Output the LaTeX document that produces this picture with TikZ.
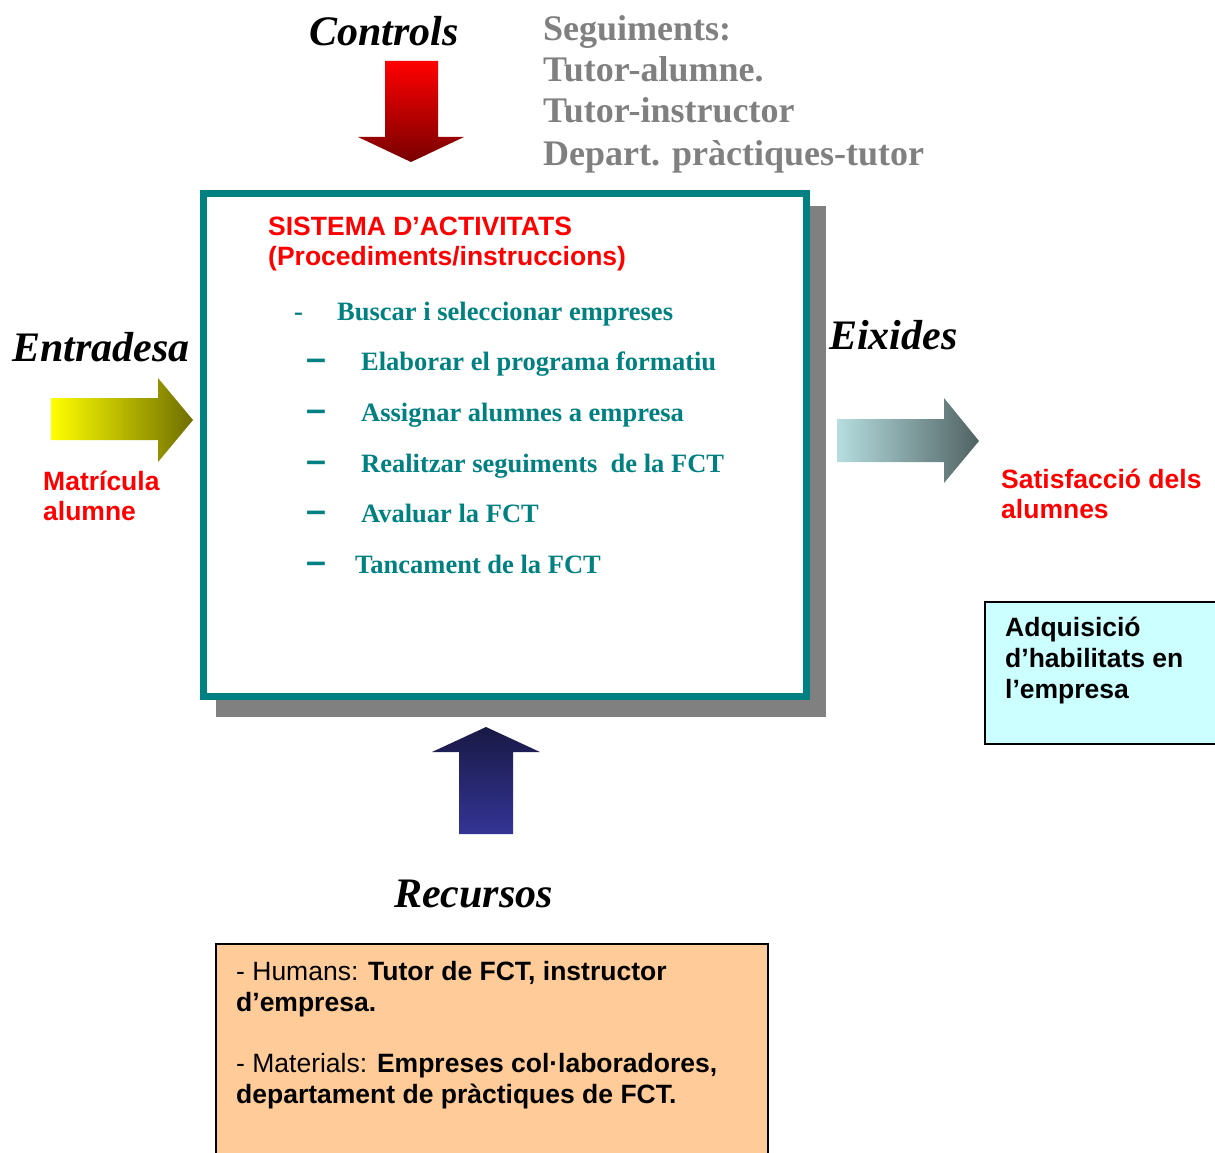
\documentclass[tikz,border=0pt]{standalone}
\usepackage{fontspec}
\setmainfont{Liberation Serif}
\setsansfont{Liberation Sans}
\definecolor{tealc}{RGB}{0,128,128}
\definecolor{grayc}{RGB}{128,128,128}
\definecolor{cyanbox}{RGB}{204,255,255}
\definecolor{orangebox}{RGB}{255,204,153}
\newcommand{\thickdash}{\scalebox{1.35}[1.35]{–}}
\begin{document}
\begin{tikzpicture}[x=1pt,y=-1pt,
  every node/.style={inner sep=0pt,anchor=base west},
  heading/.style={font=\fontsize{42}{46}\selectfont\bfseries\itshape},
  seguim/.style={font=\fontsize{36}{40}\selectfont\bfseries,text=grayc},
  redsans/.style={font=\sffamily\bfseries\fontsize{26.5}{30}\selectfont,text=red},
  blacksans/.style={font=\sffamily\bfseries\fontsize{26.5}{30}\selectfont,text=black},
  plainsans/.style={font=\sffamily\fontsize{26.5}{30}\selectfont,text=black},
  item/.style={font=\fontsize{26.5}{30}\selectfont\bfseries,text=tealc},
  itemdash/.style={font=\sffamily\bfseries\fontsize{26.5}{30}\selectfont,text=tealc}]
\useasboundingbox (0,0) rectangle (1215,1153);
\clip (0,0) rectangle (1215,1153);

% controls block
\node[heading] (controls) at (309,46) {Controls};
\shade[top color=red,bottom color={rgb,255:red,120;green,0;blue,0}]
  (385,61) -- (438,61) -- (438,137) -- (464,137) -- (411,162) -- (358,137) -- (385,137) -- cycle;
\node[seguim] (seg1) at (543,41) {Seguiments:};
\node[seguim] (seg2) at (543,82) {Tutor-alumne.};
\node[seguim] (seg3) at (543,123) {Tutor-instructor};
\node[seguim] (seg4) at (543,165) {Depart. pràctiques-tutor};

% activity system box with shadow
\fill[grayc] (216,206) rectangle (826,717);
\draw[tealc,line width=7pt,fill=white] (203.5,193.5) rectangle (806.5,696.5);
\node[redsans] (sys1) at (268,235) {SISTEMA D’ACTIVITATS};
\node[redsans] (sys2) at (268,265) {(Procediments/instruccions)};

\node[item] (d1) at (294,320) {-};
\node[item] (i1) at (337,320) {Buscar i seleccionar empreses};
\node[itemdash] (d2) at (306,370) {\thickdash};
\node[item] (i2) at (361,370) {Elaborar el programa formatiu};
\node[itemdash] (d3) at (306,421) {\thickdash};
\node[item] (i3) at (361,421) {Assignar alumnes a empresa};
\node[itemdash] (d4) at (306,472) {\thickdash};
\node[item] (i4) at (361,472) {Realitzar seguiments\ \ de la FCT};
\node[itemdash] (d5) at (306,522) {\thickdash};
\node[item] (i5) at (361,522) {Avaluar la FCT};
\node[itemdash] (d6) at (306,573) {\thickdash};
\node[item] (i6) at (355,573) {Tancament de la FCT};

% inputs
\node[heading] (entr) at (12,361) {Entradesa};
\shade[left color=yellow,right color={rgb,255:red,110;green,110;blue,0}]
  (51,398) -- (158,398) -- (158,378) -- (193,420) -- (158,462) -- (158,440) -- (51,440) -- cycle;
\node[redsans] (mat1) at (43,490) {Matrícula};
\node[redsans] (mat2) at (43,520) {alumne};

% outputs
\node[heading] (eix) at (829,349) {Eixides};
\shade[left color={rgb,255:red,182;green,222;blue,224},right color={rgb,255:red,80;green,98;blue,98}]
  (837,419) -- (944,419) -- (944,398) -- (979,441) -- (944,483) -- (944,462) -- (837,462) -- cycle;
\node[redsans] (sat1) at (1001,488) {Satisfacció dels};
\node[redsans] (sat2) at (1001,518) {alumnes};

\draw[black,line width=2pt,fill=cyanbox] (985,602) rectangle (1225,744);
\node[blacksans] (adq1) at (1005,636) {Adquisició};
\node[blacksans] (adq2) at (1005,667) {d’habilitats en};
\node[blacksans] (adq3) at (1005,698) {l’empresa};

% resources
\shade[top color={rgb,255:red,25;green,25;blue,70},bottom color={rgb,255:red,52;green,52;blue,150}]
  (432,752) -- (486,727) -- (540,752) -- (513,752) -- (513,834) -- (459,834) -- (459,752) -- cycle;
\node[heading] (rec) at (394,907) {Recursos};

\draw[black,line width=2pt,fill=orangebox] (216,944) rectangle (768,1165);
\node[plainsans] (hum1) at (236,980) {- Humans: \textbf{Tutor de FCT, instructor}};
\node[blacksans] (hum2) at (236,1011) {d’empresa.};
\node[plainsans] (mat3) at (236,1072) {- Materials: \textbf{Empreses col·laboradores,}};
\node[blacksans] (mat4) at (236,1103) {departament de pràctiques de FCT.};
\end{tikzpicture}
\end{document}
